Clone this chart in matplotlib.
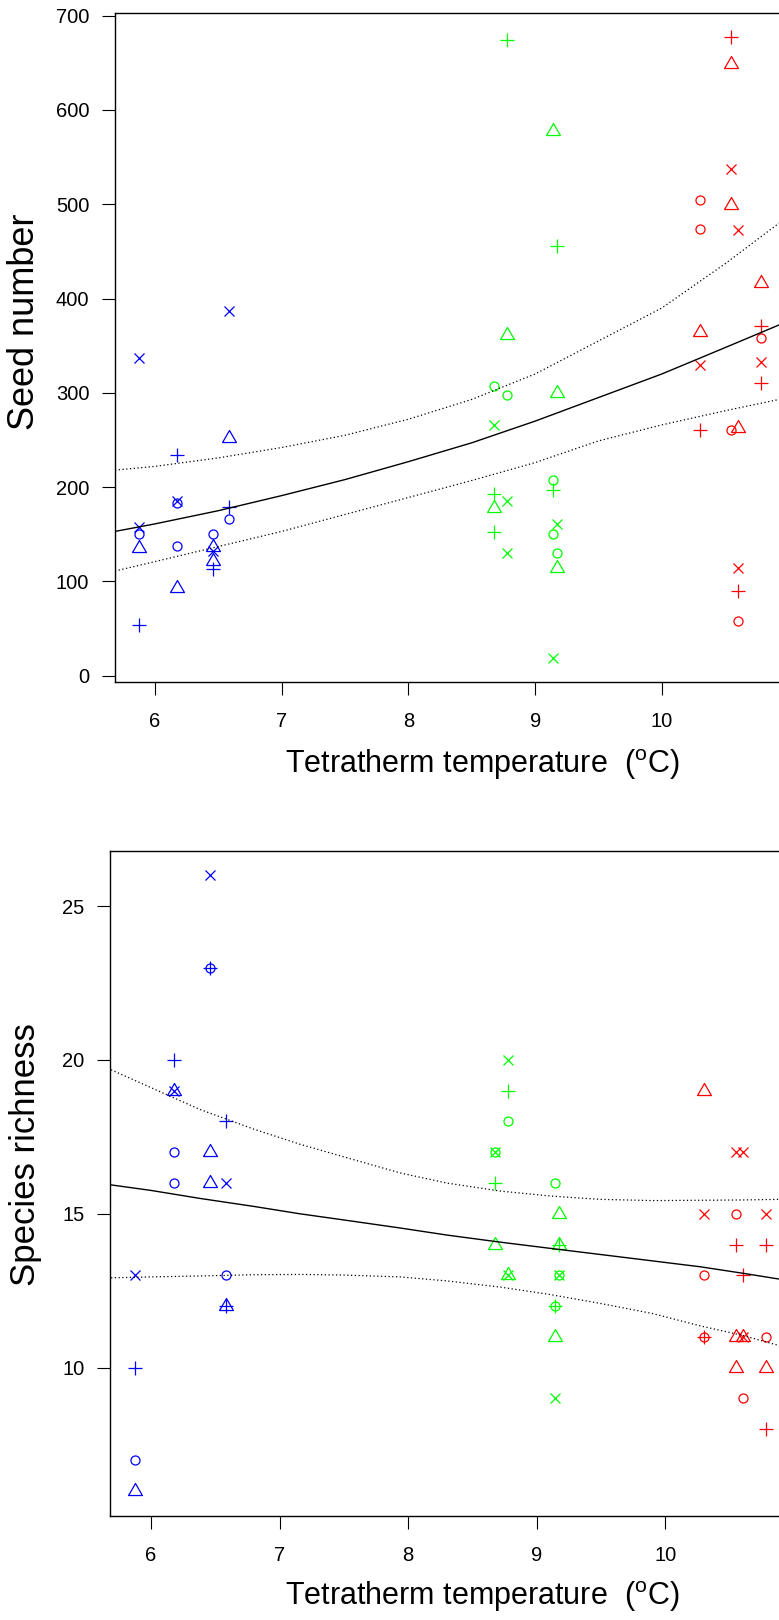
import numpy as np
import matplotlib
matplotlib.use("Agg")
import matplotlib.pyplot as plt

plt.rcParams['font.family'] = ['Liberation Sans', 'DejaVu Sans']
plt.rcParams['mathtext.fontset'] = 'custom'
plt.rcParams['mathtext.rm'] = 'Liberation Sans'

# tetratherm temperature of each site: 4 cold (blue), 4 mid (green), 4 warm (red)
site_temp = [5.875, 6.175, 6.46, 6.585, 8.672, 8.774, 9.138, 9.171,
             10.3, 10.547, 10.6, 10.78]
group_cols = ['#0000ff', '#00ff00', '#ff0000']

# seed number: site index, symbol, value
seed_site = [0, 0, 0, 0, 0,
             1, 1, 1, 1, 1,
             2, 2, 2, 2, 2,
             3, 3, 3, 3,
             4, 4, 4, 4, 4,
             5, 5, 5, 5, 5,
             6, 6, 6, 6, 6,
             7, 7, 7, 7, 7,
             8, 8, 8, 8, 8,
             9, 9, 9, 9, 9,
             10, 10, 10, 10, 10,
             11, 11, 11, 11, 11]
seed_sym = ['o', '^', '+', 'x', 'x',
            'o', 'o', '^', '+', 'x',
            'o', '^', '^', '+', 'x',
            'o', '^', '+', 'x',
            'o', '^', '+', '+', 'x',
            'o', '^', '+', 'x', 'x',
            'o', 'o', '^', '+', 'x',
            'o', '^', '^', '+', 'x',
            'o', 'o', '^', '+', 'x',
            'o', '^', '^', '+', 'x',
            'o', '^', '+', 'x', 'x',
            'o', '^', '+', '+', 'x']
seed_val = [150, 135, 54, 337, 158,
            183, 138, 93, 234, 185,
            150, 137, 122, 113, 132,
            166, 252, 179, 387,
            307, 178, 193, 152, 266,
            298, 361, 674, 185, 130,
            208, 150, 578, 197, 19,
            130, 300, 114, 456, 161,
            505, 474, 364, 261, 329,
            261, 649, 499, 677, 537,
            58, 263, 90, 473, 114,
            358, 416, 371, 310, 333]

# species richness: site index, symbol, value
rich_site = [0, 0, 0, 0,
             1, 1, 1, 1, 1,
             2, 2, 2, 2, 2,
             3, 3, 3, 3, 3,
             4, 4, 4, 4,
             5, 5, 5, 5, 5,
             6, 6, 6, 6, 6,
             7, 7, 7, 7, 7,
             8, 8, 8, 8, 8,
             9, 9, 9, 9, 9,
             10, 10, 10, 10, 10,
             11, 11, 11, 11, 11]
rich_sym = ['x', '+', 'o', '^',
            '+', '^', 'x', 'o', 'o',
            'x', 'o', '+', '^', '^',
            '+', 'x', 'o', '^', '+',
            'o', 'x', '+', '^',
            'x', '+', 'o', '^', 'x',
            'o', 'o', '+', '^', 'x',
            '^', '^', '+', 'o', 'x',
            '^', 'x', 'o', 'o', '+',
            'x', 'o', '+', '^', '^',
            'x', '+', '^', 'x', 'o',
            'x', '+', 'o', '^', '+']
rich_val = [13, 10, 7, 6,
            20, 19, 19, 17, 16,
            26, 23, 23, 17, 16,
            18, 16, 13, 12, 12,
            17, 17, 16, 14,
            20, 19, 18, 13, 13,
            16, 12, 12, 11, 9,
            15, 14, 14, 13, 13,
            19, 15, 13, 11, 11,
            17, 15, 14, 11, 10,
            17, 13, 11, 11, 9,
            15, 14, 11, 10, 8]

# fitted curve and confidence band, seed number
seed_fit_x = [5.684, 6.0, 6.5, 7.0, 7.5, 8.0, 8.5, 9.0, 9.5, 10.0, 10.5, 10.925]
seed_fit = [153, 161, 175, 191, 208, 227, 247, 270, 295, 320, 348, 372]
seed_hi = [218, 222, 231, 242, 255, 272, 293, 320, 355, 390, 437, 480]
seed_lo = [111, 121, 137, 153, 171, 189, 207, 226, 249, 266, 281, 293]

# fitted curve and confidence band, species richness
rich_fit_x = [5.689, 6.0, 6.381, 6.8, 7.159, 7.5, 7.936, 8.3, 8.714, 9.1,
              9.491, 9.9, 10.269, 10.6, 10.883]
rich_fit = [15.94, 15.76, 15.5, 15.24, 15.0, 14.8, 14.54, 14.31, 14.08, 13.88,
            13.68, 13.47, 13.28, 13.07, 12.88]
rich_hi = [19.68, 19.1, 18.39, 17.75, 17.26, 16.85, 16.33, 16.0, 15.74, 15.58,
           15.47, 15.43, 15.44, 15.45, 15.47]
rich_lo = [12.92, 12.95, 12.98, 13.02, 13.03, 13.01, 12.95, 12.82, 12.62, 12.38,
           12.09, 11.76, 11.36, 11.05, 10.72]

W, H = 779, 1620
fig = plt.figure(figsize=(W / 100, H / 100), dpi=100)

xr = 11.1
ax1 = fig.add_axes([115 / W, (H - 681.7) / H, (xr - 5.684) * 126.7 / W, 669 / H])
ax2 = fig.add_axes([110 / W, (H - 1515.7) / H, (xr - 5.681) * 128.6 / W, 664.7 / H])

msize = {'o': 6.5, '^': 11.5, '+': 10, 'x': 7.5}
tri = [(-1, -0.58), (1, -0.58), (0, 1.15), (-1, -0.58)]


def draw_points(ax, sites, syms, vals):
    for s, m, v in zip(sites, syms, vals):
        col = group_cols[s // 4]
        if m == 'o':
            ax.plot(site_temp[s], v, 'o', mfc='none', mec=col, ms=msize[m], mew=0.9)
        elif m == '^':
            ax.plot(site_temp[s], v, marker=tri, mfc='none', mec=col,
                    ms=msize[m], mew=0.9, ls='none')
        else:
            ax.plot(site_temp[s], v, m, color=col, ms=msize[m], mew=0.9)


def style(ax, xlim, ylim, yticks):
    ax.set_xlim(*xlim)
    ax.set_ylim(*ylim)
    ax.set_xticks([6, 7, 8, 9, 10])
    ax.set_yticks(yticks)
    ax.tick_params(direction='out', length=9.5, width=0.8, labelsize=14.5,
                   color='black')
    ax.tick_params(axis='x', pad=12)
    ax.tick_params(axis='y', pad=9)
    for sp in ax.spines.values():
        sp.set_linewidth(1.0)
        sp.set_color('black')


draw_points(ax1, seed_site, seed_sym, seed_val)
ax1.plot(seed_fit_x, seed_fit, color='black', lw=1.0)
ax1.plot(seed_fit_x, seed_hi, color='black', lw=0.9, ls=(0, (1, 2)))
ax1.plot(seed_fit_x, seed_lo, color='black', lw=0.9, ls=(0, (1, 2)))
style(ax1, (5.684, xr), (-6.4, 703.2), range(0, 701, 100))

draw_points(ax2, rich_site, rich_sym, rich_val)
ax2.plot(rich_fit_x, rich_fit, color='black', lw=1.0)
ax2.plot(rich_fit_x, rich_hi, color='black', lw=0.9, ls=(0, (1, 2)))
ax2.plot(rich_fit_x, rich_lo, color='black', lw=0.9, ls=(0, (1, 2)))
style(ax2, (5.681, xr), (5.19, 26.79), [10, 15, 20, 25])

xlab = 'Tetratherm temperature  ($^{\\mathrm{o}}$C)'
fig.text(482 / W, 1 - 765 / H, xlab, ha='center', va='center', fontsize=22)
fig.text(482 / W, 1 - 1597 / H, xlab, ha='center', va='center', fontsize=22)
fig.text(25 / W, 1 - 322 / H, 'Seed number', rotation=90, ha='center', va='center',
         fontsize=26)
fig.text(26 / W, 1 - 1155 / H, 'Species richness', rotation=90, ha='center',
         va='center', fontsize=25)

fig.savefig('out.png', dpi=100)
